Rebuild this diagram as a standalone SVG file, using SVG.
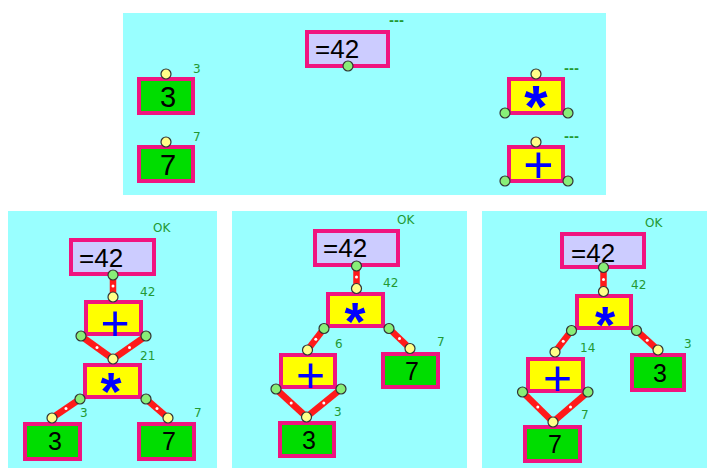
<svg xmlns="http://www.w3.org/2000/svg" width="707" height="468" viewBox="0 0 707 468">
<style>
.panel{fill:#99ffff}
.box{stroke:#f0147f;stroke-width:4}
.eq{fill:#ccccff}
.num{fill:#00dd00}
.op{fill:#ffff00}
.py{fill:#ffff88;stroke:#333;stroke-width:1.2}
.pg{fill:#88ee77;stroke:#333;stroke-width:1.2}
.t{font-family:"Liberation Sans",Arial,sans-serif;fill:#000}
.teq{font-size:26px}
.tn{font-size:25px;text-anchor:middle}
.tnb{font-size:29px;text-anchor:middle}
.plus{font-family:"Liberation Sans",Arial,sans-serif;fill:#0000ff;text-anchor:middle}
.star{font-family:"Liberation Sans",Arial,sans-serif;font-weight:bold;fill:#0000ff;text-anchor:middle}
.lb{font-family:"DejaVu Sans",Verdana,sans-serif;font-size:12px;fill:#229933}
.dash{font-weight:bold}
.edge{stroke:#ff1a1a;stroke-width:6.5;stroke-linecap:butt}
.dot{fill:#ffffff}
</style>

<rect class="panel" x="123" y="13" width="483" height="182"/>
<rect class="panel" x="8" y="211" width="209" height="257"/>
<rect class="panel" x="232" y="211" width="235" height="257"/>
<rect class="panel" x="482" y="211" width="225" height="257"/>

<g id="connectors">
  <line class="edge" x1="113" y1="275" x2="113" y2="297"/><circle class="dot" cx="113" cy="286" r="1.5"/>
  <line class="edge" x1="81" y1="336" x2="113" y2="359"/><circle class="dot" cx="97" cy="347.5" r="1.5"/>
  <line class="edge" x1="146" y1="336" x2="113" y2="359"/><circle class="dot" cx="129.5" cy="347.5" r="1.5"/>
  <line class="edge" x1="80" y1="399" x2="52" y2="418"/><circle class="dot" cx="66" cy="408.5" r="1.5"/>
  <line class="edge" x1="146" y1="399" x2="168" y2="418"/><circle class="dot" cx="157" cy="408.5" r="1.5"/>

  <line class="edge" x1="356.5" y1="266" x2="356.5" y2="288.5"/><circle class="dot" cx="356.5" cy="277" r="1.5"/>
  <line class="edge" x1="324" y1="328.5" x2="307.5" y2="350"/><circle class="dot" cx="315.8" cy="339.2" r="1.5"/>
  <line class="edge" x1="389" y1="328.5" x2="410" y2="348.5"/><circle class="dot" cx="399.5" cy="338.5" r="1.5"/>
  <line class="edge" x1="276" y1="389" x2="306.5" y2="417"/><circle class="dot" cx="291.2" cy="403" r="1.5"/>
  <line class="edge" x1="341" y1="389" x2="306.5" y2="417"/><circle class="dot" cx="323.8" cy="403" r="1.5"/>

  <line class="edge" x1="603.5" y1="267.5" x2="603.5" y2="291.5"/><circle class="dot" cx="603.5" cy="279.5" r="1.5"/>
  <line class="edge" x1="571.5" y1="330.5" x2="555" y2="352"/><circle class="dot" cx="563.2" cy="341.2" r="1.5"/>
  <line class="edge" x1="636.5" y1="330.5" x2="658" y2="350"/><circle class="dot" cx="647.2" cy="340.2" r="1.5"/>
  <line class="edge" x1="522.5" y1="392" x2="553" y2="422"/><circle class="dot" cx="537.8" cy="407" r="1.5"/>
  <line class="edge" x1="588" y1="392" x2="553" y2="422"/><circle class="dot" cx="570.5" cy="407" r="1.5"/>
</g>

<!-- top panel -->
<g id="top-eq">
  <rect class="box eq" x="307" y="32" width="81" height="34"/>
  <text class="t teq" x="315" y="58">=42</text>
  <circle class="pg" cx="348" cy="66" r="5"/>
  <text class="lb dash" x="389" y="25">---</text>
</g>
<g id="top-n3">
  <rect class="box num" x="139" y="79" width="54" height="34"/>
  <text class="t tnb" x="168" y="107">3</text>
  <circle class="py" cx="166" cy="74" r="5"/>
  <text class="lb" x="193" y="73">3</text>
</g>
<g id="top-n7">
  <rect class="box num" x="139" y="147" width="54" height="34"/>
  <text class="t tnb" x="168" y="175">7</text>
  <circle class="py" cx="166" cy="142" r="5"/>
  <text class="lb" x="193" y="141">7</text>
</g>
<g id="top-mul">
  <rect class="box op" x="509" y="79" width="54" height="34"/>
  <text class="star" x="536" y="127" font-size="60">*</text>
  <circle class="py" cx="536" cy="74" r="5"/>
  <circle class="pg" cx="505" cy="113" r="5"/>
  <circle class="pg" cx="568" cy="113" r="5"/>
  <text class="lb dash" x="564" y="73">---</text>
</g>
<g id="top-add">
  <rect class="box op" x="509" y="147" width="54" height="34"/>
  <text class="plus" x="538.5" y="182.5" font-size="52">+</text>
  <circle class="py" cx="536" cy="142" r="5"/>
  <circle class="pg" cx="505" cy="181" r="5"/>
  <circle class="pg" cx="568" cy="181" r="5"/>
  <text class="lb dash" x="564" y="141">---</text>
</g>

<!-- panel 1 -->
<g id="p1-eq">
  <rect class="box eq" x="71" y="240" width="83" height="34"/>
  <text class="t teq" x="79" y="267">=42</text>
  <circle class="pg" cx="113" cy="275" r="5"/>
  <text class="lb" x="153" y="232">OK</text>
</g>
<g id="p1-add">
  <rect class="box op" x="86" y="302" width="55" height="32"/>
  <text class="plus" x="115" y="340" font-size="50">+</text>
  <circle class="py" cx="113" cy="297" r="5"/>
  <circle class="pg" cx="81" cy="336" r="5"/>
  <circle class="pg" cx="146" cy="336" r="5"/>
  <text class="lb" x="140" y="296">42</text>
</g>
<g id="p1-mul">
  <rect class="box op" x="85" y="365" width="55" height="32"/>
  <text class="star" x="111" y="409.5" font-size="54">*</text>
  <circle class="py" cx="113" cy="359" r="5"/>
  <circle class="pg" cx="80" cy="399" r="5"/>
  <circle class="pg" cx="146" cy="399" r="5"/>
  <text class="lb" x="140" y="360">21</text>
</g>
<g id="p1-n3">
  <rect class="box num" x="25" y="424" width="55" height="35"/>
  <text class="t tn" x="55" y="450">3</text>
  <circle class="py" cx="52" cy="418" r="5"/>
  <text class="lb" x="80" y="417">3</text>
</g>
<g id="p1-n7">
  <rect class="box num" x="139" y="424" width="55" height="35"/>
  <text class="t tn" x="169" y="450">7</text>
  <circle class="py" cx="168" cy="418" r="5"/>
  <text class="lb" x="194" y="417">7</text>
</g>

<!-- panel 2 -->
<g id="p2-eq">
  <rect class="box eq" x="315" y="231" width="83" height="34"/>
  <text class="t teq" x="323" y="257">=42</text>
  <circle class="pg" cx="356.5" cy="266" r="5"/>
  <text class="lb" x="397" y="224">OK</text>
</g>
<g id="p2-mul">
  <rect class="box op" x="328" y="294" width="55" height="32"/>
  <text class="star" x="355" y="339.5" font-size="54">*</text>
  <circle class="py" cx="356.5" cy="288.5" r="5"/>
  <circle class="pg" cx="324" cy="328.5" r="5"/>
  <circle class="pg" cx="389" cy="328.5" r="5"/>
  <text class="lb" x="383" y="287">42</text>
</g>
<g id="p2-add">
  <rect class="box op" x="281" y="355" width="54" height="32"/>
  <text class="plus" x="310.5" y="392.4" font-size="50">+</text>
  <circle class="py" cx="307.5" cy="350" r="5"/>
  <circle class="pg" cx="276" cy="389" r="5"/>
  <circle class="pg" cx="341" cy="389" r="5"/>
  <text class="lb" x="335" y="348">6</text>
</g>
<g id="p2-n7">
  <rect class="box num" x="383" y="354" width="55" height="33"/>
  <text class="t tn" x="412" y="380">7</text>
  <circle class="py" cx="410" cy="348.5" r="5"/>
  <text class="lb" x="437" y="346">7</text>
</g>
<g id="p2-n3">
  <rect class="box num" x="280" y="423" width="54" height="33"/>
  <text class="t tn" x="309" y="448.5">3</text>
  <circle class="py" cx="306.5" cy="417" r="5"/>
  <text class="lb" x="334" y="416">3</text>
</g>

<!-- panel 3 -->
<g id="p3-eq">
  <rect class="box eq" x="562" y="234" width="82" height="33"/>
  <text class="t teq" x="571" y="262">=42</text>
  <circle class="pg" cx="603.5" cy="267.5" r="5"/>
  <text class="lb" x="645" y="227">OK</text>
</g>
<g id="p3-mul">
  <rect class="box op" x="577" y="296" width="54" height="32"/>
  <text class="star" x="605" y="343" font-size="52">*</text>
  <circle class="py" cx="603.5" cy="291.5" r="5"/>
  <circle class="pg" cx="571.5" cy="330.5" r="5"/>
  <circle class="pg" cx="636.5" cy="330.5" r="5"/>
  <text class="lb" x="631" y="289">42</text>
</g>
<g id="p3-add">
  <rect class="box op" x="528" y="359" width="55" height="32"/>
  <text class="plus" x="557.5" y="395.4" font-size="50">+</text>
  <circle class="py" cx="555" cy="352" r="5"/>
  <circle class="pg" cx="522.5" cy="392" r="5"/>
  <circle class="pg" cx="588" cy="392" r="5"/>
  <text class="lb" x="580" y="352">14</text>
</g>
<g id="p3-n3">
  <rect class="box num" x="632" y="355" width="52" height="35"/>
  <text class="t tn" x="660" y="382">3</text>
  <circle class="py" cx="658" cy="350" r="5"/>
  <text class="lb" x="684" y="348">3</text>
</g>
<g id="p3-n7">
  <rect class="box num" x="525" y="427" width="55" height="34"/>
  <text class="t tn" x="555" y="453">7</text>
  <circle class="py" cx="553" cy="422" r="5"/>
  <text class="lb" x="581" y="419">7</text>
</g>
</svg>
